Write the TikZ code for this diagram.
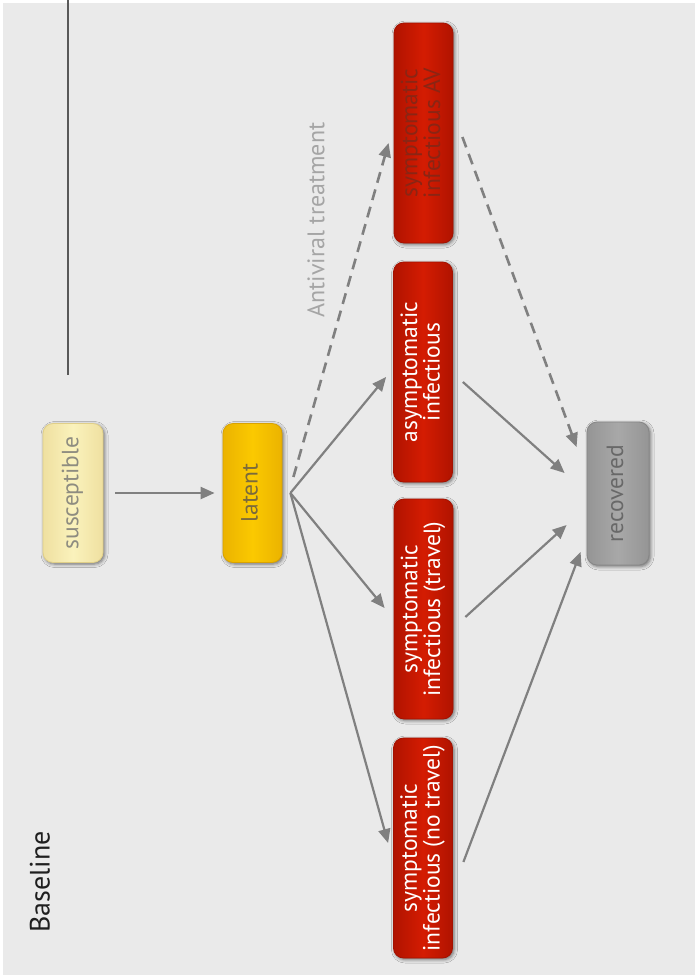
\documentclass[tikz,border=0pt]{standalone}
\usepackage{fontspec}
\usepackage{graphicx}
\setmainfont{PT Sans}
\usetikzlibrary{arrows.meta,shadows.blur,calc}
\definecolor{bgc}{HTML}{EAEAEA}
\definecolor{arrc}{HTML}{808080}
\definecolor{redmid}{HTML}{D41C02}
\definecolor{rededge}{HTML}{B01300}
\definecolor{redline}{HTML}{A31100}
\definecolor{avtext}{HTML}{8A2514}
\definecolor{susmid}{HTML}{FAF2BC}
\definecolor{susedge}{HTML}{EFE0A0}
\definecolor{susline}{HTML}{E0CF88}
\definecolor{sustext}{HTML}{8E8C80}
\definecolor{latmid}{HTML}{FBC900}
\definecolor{latedge}{HTML}{EBB300}
\definecolor{latline}{HTML}{D9A200}
\definecolor{lattext}{HTML}{7A6A3C}
\definecolor{recmid}{HTML}{A8A8A8}
\definecolor{recedge}{HTML}{959595}
\definecolor{recline}{HTML}{868686}
\definecolor{rectext}{HTML}{686868}
\definecolor{avlabel}{HTML}{A5A5A5}
\newcommand{\boxtxt}[1]{\rotatebox{90}{\fontsize{23.5}{20}\selectfont\begin{tabular}{@{}c@{}}#1\end{tabular}}}
\tikzset{
  x=1pt, y=-1pt,
  stagebox/.style={rectangle, rounded corners=10pt, inner sep=0pt, line width=0.8pt,
     blur shadow={shadow xshift=1.5pt, shadow yshift=-1.5pt, shadow blur radius=3.5pt, shadow opacity=55}},
  redbox/.style={stagebox, minimum width=59pt, minimum height=220pt, draw=redline,
     left color=rededge, right color=rededge, middle color=redmid, text=white},
  flow/.style={draw=arrc, line width=2.2pt, -{Triangle[length=14pt,width=12pt]}},
  dflow/.style={flow, line width=2.6pt, dash pattern=on 11pt off 7pt}
}
\begin{document}
\begin{tikzpicture}
\fill[white] (0,0) rectangle (698,978);
\fill[bgc] (3,3) rectangle (695,975);
\useasboundingbox (0,0) rectangle (698,978);

% top-left vertical line
\coordinate (ltop) at (68,0);
\coordinate (lbot) at (68,375);
\draw[line width=2pt, color=black!65] (ltop) -- (lbot);

% nodes
\node[stagebox, minimum width=60pt, minimum height=139pt, draw=susline,
      left color=susedge, right color=susedge, middle color=susmid, text=sustext]
      (sus) at (73,493) {\boxtxt{susceptible}};
\node[stagebox, minimum width=59pt, minimum height=139pt, draw=latline,
      left color=latedge, right color=latedge, middle color=latmid, text=lattext]
      (lat) at (252.5,493) {\boxtxt{latent}};
\node[redbox, text=avtext] (av) at (423.5,133) {\boxtxt{symptomatic\\infectious AV}};
\node[redbox] (asym) at (423,372) {\boxtxt{asymptomatic\\infectious}};
\node[redbox] (trav) at (423.5,609) {\boxtxt{symptomatic\\infectious (travel)}};
\node[redbox] (notrav) at (423,848) {\boxtxt{symptomatic\\infectious (no travel)}};
\node[stagebox, minimum width=62pt, minimum height=143pt, draw=recline,
      left color=recedge, right color=recedge, middle color=recmid, text=rectext]
      (rec) at (618,493.5) {\boxtxt{recovered}};

% labels
\node[rotate=90, text=avlabel, font=\fontsize{24}{26}\selectfont] (avl) at (316,220) {Antiviral treatment};
\node[rotate=90, text=black!88, font=\fontsize{28}{30}\selectfont] (base) at (40,882) {Baseline};

% connectors
\coordinate (fan) at ([xshift=8pt]lat.east);
\draw[flow, shorten <=12pt, shorten >=8pt] (sus.east) -- (lat.west);
\draw[flow] (fan) -- ([xshift=-7pt,yshift=-5pt]asym.west);
\draw[flow] (fan) -- ([xshift=-9pt,yshift=1pt]trav.west);
\draw[flow] (fan) -- ([xshift=-5pt,yshift=5pt]notrav.west);
\draw[dflow] ([xshift=11pt,yshift=16pt]lat.east) -- ([xshift=-5pt,yshift=-10pt]av.west);

\draw[dflow] ([xshift=9pt,yshift=-4pt]av.east) -- ([xshift=-10pt,yshift=46.5pt]rec.west);
\draw[flow] ([xshift=10pt,yshift=-10pt]asym.east) -- ([xshift=-22pt,yshift=20.5pt]rec.west);
\draw[flow] ([xshift=12pt,yshift=-8pt]trav.east) -- ([xshift=-20pt,yshift=-31.5pt]rec.west);
\draw[flow] ([xshift=10.5pt,yshift=-14pt]notrav.east) -- ([xshift=-6pt,yshift=-58.5pt]rec.west);
\end{tikzpicture}
\end{document}
